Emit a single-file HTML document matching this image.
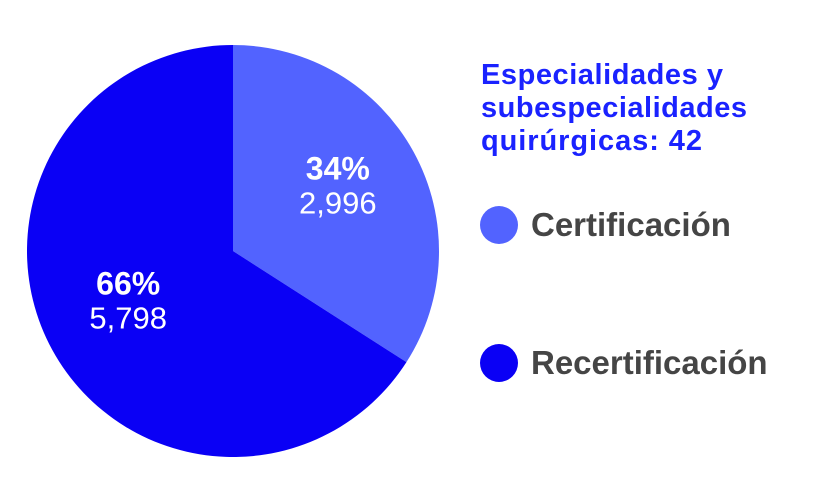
<!DOCTYPE html>
<html><head><meta charset="utf-8"><style>
body{margin:0;background:#fff;}
svg{display:block;font-family:"Liberation Sans",sans-serif;}
</style></head><body>
<svg id="chart" width="827" height="494" viewBox="0 0 827 494">
<g id="slices"></g>
<g id="labels"></g>
<g font-size="29" font-weight="bold" fill="#1a22ff">
<text x="481" y="84" textLength="242">Especialidades y</text>
<text x="481" y="117" textLength="266">subespecialidades</text>
<text x="481" y="150" textLength="221">quirúrgicas: 42</text>
</g>
<g id="legend"></g>
</svg>
<script>
const categories=["Certificación","Recertificación"];
const values=[2996,5798];
const percents=["34%","66%"];
const valueLabels=["2,996","5,798"];
const colors=["#5263ff","#0a00f5"];
const NS="http://www.w3.org/2000/svg";
const cx=233,cy=251,r=206;
const total=values.reduce((a,b)=>a+b,0);
function pt(a,rr){return [cx+rr*Math.sin(a),cy-rr*Math.cos(a)];}
let start=0;
const sg=document.getElementById('slices'),lg=document.getElementById('labels'),leg=document.getElementById('legend');
values.forEach((v,i)=>{
  const ang=v/total*2*Math.PI,end=start+ang;
  const [x1,y1]=pt(start,r),[x2,y2]=pt(end,r);
  const p=document.createElementNS(NS,'path');
  p.setAttribute('d',`M${cx},${cy} L${x1},${y1} A${r},${r} 0 ${ang>Math.PI?1:0} 1 ${x2},${y2} Z`);
  p.setAttribute('fill',colors[i]);
  
  
  sg.appendChild(p);
  const mid=(start+end)/2;
  const [lx,ly]=pt(mid,r*0.58);
  const t1=document.createElementNS(NS,'text');
  t1.setAttribute('x',lx);t1.setAttribute('y',ly-14);t1.setAttribute('text-anchor','middle');
  t1.setAttribute('font-size','32');t1.setAttribute('font-weight','bold');t1.setAttribute('fill','#fff');
  t1.textContent=percents[i];
  
  
  lg.appendChild(t1);
  const t2=document.createElementNS(NS,'text');
  t2.setAttribute('x',lx);t2.setAttribute('y',ly+20);t2.setAttribute('text-anchor','middle');
  t2.setAttribute('font-size','31');t2.setAttribute('fill','#fff');
  t2.textContent=valueLabels[i];
  
  
  lg.appendChild(t2);
  const ly2=225+i*138;
  const c=document.createElementNS(NS,'circle');
  c.setAttribute('cx',499);c.setAttribute('cy',ly2);c.setAttribute('r',19);c.setAttribute('fill',colors[i]);
  
  
  leg.appendChild(c);
  const lt=document.createElementNS(NS,'text');
  lt.setAttribute('x',531);lt.setAttribute('y',ly2+11);lt.setAttribute('font-size','33');
  lt.setAttribute('font-weight','bold');lt.setAttribute('fill','#454545');
  lt.textContent=categories[i];
  
  
  leg.appendChild(lt);
  start=end;
});
</script>
</body></html>
